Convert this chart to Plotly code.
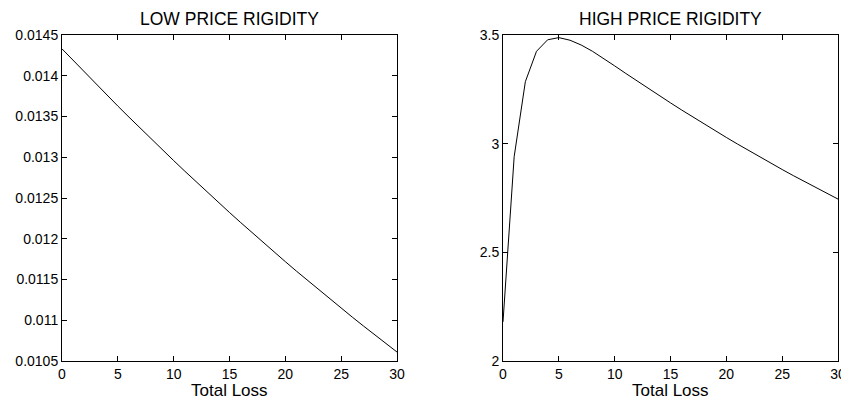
import plotly.graph_objects as go

# ---- data ----
total_loss = list(range(0, 31))

low_rigidity = [0.014330, 0.014187, 0.014045, 0.013905, 0.013766, 0.013628,
                0.013492, 0.013356, 0.013223, 0.013090, 0.012959, 0.012829,
                0.012700, 0.012573, 0.012447, 0.012322, 0.012199, 0.012077,
                0.011956, 0.011837, 0.011719, 0.011602, 0.011487, 0.011372,
                0.011259, 0.011148, 0.011038, 0.010929, 0.010821, 0.010715,
                0.010610]

high_rigidity = [2.18, 2.94, 3.285, 3.425, 3.478, 3.488, 3.476, 3.454, 3.4255,
                 3.393, 3.358, 3.3230, 3.2885, 3.2544, 3.2208, 3.1876, 3.1549,
                 3.1226, 3.0908, 3.0595, 3.0286, 2.9982, 2.9682, 2.9387, 2.9097,
                 2.8811, 2.8530, 2.8253, 2.7981, 2.7713, 2.7450]

x_ticks = [0, 5, 10, 15, 20, 25, 30]
low_yticks = [0.0105, 0.011, 0.0115, 0.012, 0.0125, 0.013, 0.0135, 0.014, 0.0145]
low_yticktext = ["0.0105", "0.011", "0.0115", "0.012", "0.0125", "0.013",
                 "0.0135", "0.014", "0.0145"]
high_yticks = [2, 2.5, 3, 3.5]
high_yticktext = ["2", "2.5", "3", "3.5"]

titles = ["LOW PRICE RIGIDITY", "HIGH PRICE RIGIDITY"]
x_title = "Total Loss"

# page body has an 8px margin, so the figure is offset by OFF in the window
OFF = 8
W, H = 849 - OFF, 405 - OFF
FONT = "Liberation Sans, Arial, Helvetica, sans-serif"


def px_x(p):
    return (p - OFF) / W


def px_y(p):
    return 1 - (p - OFF) / H


left_dom = [px_x(62), px_x(397)]
right_dom = [px_x(503), px_x(838)]
y_dom = [px_y(361), px_y(35)]

fig = go.Figure()
fig.add_trace(go.Scatter(x=total_loss, y=low_rigidity, mode="lines",
                         line=dict(color="black", width=1), xaxis="x", yaxis="y",
                         showlegend=False, hoverinfo="skip"))
fig.add_trace(go.Scatter(x=total_loss, y=high_rigidity, mode="lines",
                         line=dict(color="black", width=1), xaxis="x2", yaxis="y2",
                         showlegend=False, hoverinfo="skip"))

axis_common = dict(showline=True, linecolor="black", linewidth=1, mirror="ticks",
                   ticks="inside", ticklen=5, tickcolor="black", tickwidth=1,
                   showgrid=False, zeroline=False, automargin=False,
                   tickfont=dict(family=FONT, size=14, color="black"))

fig.update_layout(
    template="none",
    width=W, height=H,
    margin=dict(l=0, r=0, t=0, b=0, pad=0),
    paper_bgcolor="white", plot_bgcolor="white",
    xaxis=dict(domain=left_dom, range=[0, 30], tickvals=x_ticks, anchor="y",
               **axis_common),
    yaxis=dict(domain=y_dom, range=[0.0105, 0.0145], tickvals=low_yticks,
               ticktext=low_yticktext, anchor="x", **axis_common),
    xaxis2=dict(domain=right_dom, range=[0, 30], tickvals=x_ticks, anchor="y2",
                **axis_common),
    yaxis2=dict(domain=y_dom, range=[2, 3.5], tickvals=high_yticks,
                ticktext=high_yticktext, anchor="x2", **axis_common),
)

annots = []
for dom, t in zip([left_dom, right_dom], titles):
    cx = (dom[0] + dom[1]) / 2
    annots.append(dict(text=t, x=cx, y=px_y(18.5), xref="paper", yref="paper",
                       xanchor="center", yanchor="middle", showarrow=False,
                       font=dict(family=FONT, size=17.5, color="black")))
    annots.append(dict(text=x_title, x=cx, y=px_y(390.5), xref="paper", yref="paper",
                       xanchor="center", yanchor="middle", showarrow=False,
                       font=dict(family=FONT, size=17, color="black")))
fig.update_layout(annotations=annots)

fig.write_html("out.html")
